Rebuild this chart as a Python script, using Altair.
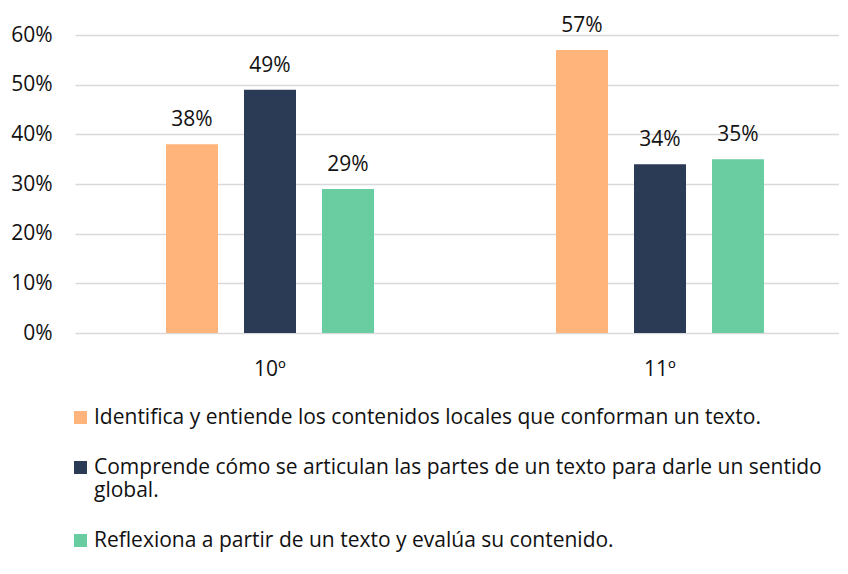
import altair as alt
import pandas as pd

grades = ["10º", "11º"]
series = [
    "Identifica y entiende los contenidos locales que conforman un texto.",
    "Comprende cómo se articulan las partes de un texto para darle un sentido global.",
    "Reflexiona a partir de un texto y evalúa su contenido.",
]
values_10 = [0.38, 0.49, 0.29]
values_11 = [0.57, 0.34, 0.35]
colors = ["#FFB47C", "#2B3A55", "#6ACDA2"]

rows = []
for g, vals in zip(grades, [values_10, values_11]):
    for s, v in zip(series, vals):
        rows.append({"grade": g, "series": s, "value": v})
df = pd.DataFrame(rows)

FONT = "Open Sans"
TXT = "#111111"
FS = 21

x = alt.X(
    "grade:N", sort=grades, title=None,
    scale=alt.Scale(range=[0, 780], paddingInner=0, paddingOuter=0),
    axis=alt.Axis(labelAngle=0, ticks=False, domain=False, labelPadding=25,
                  labelFontSize=FS, labelColor=TXT, labelFont=FONT, grid=False),
)
xo = alt.XOffset("series:N", sort=series,
                 scale=alt.Scale(range=[91, 299], paddingInner=1/3, paddingOuter=0))
y = alt.Y(
    "value:Q", title=None,
    scale=alt.Scale(domain=[0, 0.6]),
    axis=alt.Axis(format=".0%", values=[0, 0.1, 0.2, 0.3, 0.4, 0.5, 0.6],
                  ticks=False, domain=False, labelPadding=23,
                  gridColor="#D9D9D9", gridWidth=1.5,
                  labelFontSize=FS, labelColor=TXT, labelFont=FONT),
)

legend = alt.Legend(
    title=None, orient="none", legendX=-5, legendY=372, direction="vertical",
    symbolType="square", symbolSize=169, symbolStrokeWidth=0,
    labelOffset=3, labelFontSize=FS, labelFont=FONT, labelColor=TXT,
    labelLimit=1000, rowPadding=28, padding=0, labelBaseline="middle",
    labelExpr="indexof(datum.label, 'sentido global') >= 0 ? "
              "['Comprende cómo se articulan las partes de un texto para darle un sentido', 'global.'] : datum.label",
)

color = alt.Color("series:N", sort=series,
                  scale=alt.Scale(domain=series, range=colors), legend=legend)

base = alt.Chart(df)
bars = base.mark_bar().encode(x=x, xOffset=xo, y=y, color=color)
labels = base.mark_text(dy=-18, baseline="alphabetic", fontSize=FS, font=FONT, color=TXT).encode(
    x=x, xOffset=xo, y=y, text=alt.Text("value:Q", format=".0%")
)

chart = alt.layer(bars, labels).properties(
    width=764, height=298,
    autosize=alt.AutoSizeParams(type="none"),
    padding={"left": 67, "top": 27, "right": 0, "bottom": 230},
).configure_view(stroke=None)

chart.save("out.html", embed_options={"renderer": "svg", "actions": False})
